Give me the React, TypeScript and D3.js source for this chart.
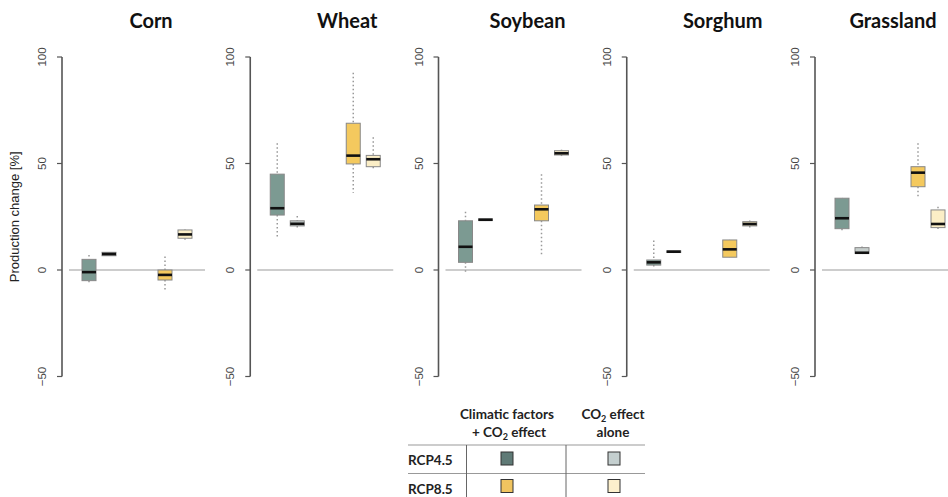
import * as d3 from "d3";

// crops shown as panels
const crops = ["Corn", "Wheat", "Soybean", "Sorghum", "Grassland"];

// box stats per crop: [whisker low, q1, median, q3, whisker high]
const rcp45Climate = [
  [-6.5, -5, -1, 5, 7],
  [15.6, 25.8, 29, 45, 59.5],
  [-1.6, 3.6, 10.9, 23.1, 27.4],
  [1.5, 2.3, 3.6, 4.7, 13.8],
  [18, 19.4, 24.3, 33.7, 33.7],
];
const rcp45Co2 = [
  [6.7, 6.7, 7.5, 8.3, 8.3],
  [20, 20.7, 21.7, 23.1, 25.4],
  [23.2, 23.2, 23.6, 24, 24],
  [8.2, 8.2, 8.6, 9, 9],
  [7.8, 7.8, 8.1, 10.5, 11],
];
const rcp85Climate = [
  [-10, -4.7, -2.3, 0, 6.3],
  [36.3, 49.8, 53.7, 68.9, 92.6],
  [6.2, 23.1, 28.5, 30.5, 45],
  [6, 6, 9.7, 14.1, 14.1],
  [34.4, 39.1, 45.7, 48.5, 59.5],
];
const rcp85Co2 = [
  [13, 14.9, 16.7, 18.8, 19],
  [47.7, 48.5, 52, 53.8, 62.3],
  [53.5, 54, 54.8, 56, 56.5],
  [20, 20.7, 21.6, 22.7, 23.2],
  [18.3, 19.9, 21.6, 28.2, 29.7],
];

const yTicks = [-50, 0, 50, 100];
const seriesLabels = ["RCP4.5", "RCP8.5"];

const series = [
  { data: rcp45Climate, pos: 1, fill: "#7c9a92" },
  { data: rcp45Co2, pos: 2, fill: "#c6cecc" },
  { data: rcp85Climate, pos: 4.8, fill: "#f4c95e" },
  { data: rcp85Co2, pos: 5.8, fill: "#fbeec6" },
];

const titleOffsets = [89, 97, 89, 96, 78];

export default function App() {
  const width = 948;
  const height = 497;

  const y = d3.scaleLinear().domain([-50, 100]).range([376.5, 57]);
  const panelX = d3.scaleLinear().domain([0, 4]).range([62, 815]);
  const boxW = 14;

  const sans = "'Liberation Sans', Arial, sans-serif";
  const bold = "Lato, 'Open Sans', sans-serif";

  return (
    <svg width={width} height={height} style={{ position: "absolute", left: 0, top: 0, background: "#fff" }}>
      <text
        transform={`translate(19,${y(25)}) rotate(-90)`}
        textAnchor="middle"
        fontFamily={sans}
        fontSize={13}
        fill="#222"
      >
        Production change [%]
      </text>

      {crops.map((crop, i) => {
        const ax = panelX(i);
        const x = d3.scaleLinear().domain([0, 6.8]).range([ax + 7, ax + 143]);
        return (
          <g key={crop}>
            <text
              x={ax + titleOffsets[i]}
              y={28}
              textAnchor="middle"
              fontFamily={bold}
              fontWeight="bold"
              fontSize={20}
              fill="#111"
            >
              {crop}
            </text>
            {/* axis */}
            <line x1={ax} x2={ax} y1={y(100)} y2={y(-50)} stroke="#555" strokeWidth={1.6} />
            {yTicks.map((t) => (
              <g key={t}>
                <line x1={ax - 5} x2={ax} y1={y(t)} y2={y(t)} stroke="#555" strokeWidth={1.2} />
                <text
                  transform={`translate(${ax - 16},${y(t)}) rotate(-90)`}
                  textAnchor="middle"
                  fontFamily={sans}
                  fontSize={11.5}
                  fill="#444"
                >
                  {t === -50 ? "\u221250" : t}
                </text>
              </g>
            ))}
            {/* zero line */}
            <line x1={x(0)} x2={x(6.8)} y1={y(0)} y2={y(0)} stroke="#bdbdbd" strokeWidth={1.5} />
            {series.map((s, j) => {
              const [lo, q1, med, q3, hi] = s.data[i];
              const cx = x(s.pos);
              return (
                <g key={j}>
                  <line x1={cx} x2={cx} y1={y(hi)} y2={y(q3)} stroke="#999" strokeWidth={1.5} strokeDasharray="1.5,2.5" />
                  <line x1={cx} x2={cx} y1={y(q1)} y2={y(lo)} stroke="#999" strokeWidth={1.5} strokeDasharray="1.5,2.5" />
                  <rect
                    x={cx - boxW / 2}
                    y={y(q3)}
                    width={boxW}
                    height={Math.max(1, y(q1) - y(q3))}
                    fill={s.fill}
                    stroke="#888"
                    strokeWidth={1}
                  />
                  <line x1={cx - boxW / 2} x2={cx + boxW / 2} y1={y(med)} y2={y(med)} stroke="#111" strokeWidth={2.6} />
                </g>
              );
            })}
          </g>
        );
      })}

      {/* legend table */}
      <g fontFamily={bold} fontWeight="bold" fill="#222" fontSize={13.5}>
        <text x={507} y={419} textAnchor="middle">Climatic factors</text>
        <text x={509} y={437} textAnchor="middle">
          + CO<tspan fontSize={9} dy={3}>2</tspan><tspan dy={-3}> effect</tspan>
        </text>
        <text x={613} y={419} textAnchor="middle">
          CO<tspan fontSize={9} dy={3}>2</tspan><tspan dy={-3}> effect</tspan>
        </text>
        <text x={613} y={437} textAnchor="middle">alone</text>
        {seriesLabels.map((lab, r) => (
          <text key={lab} x={408} y={465 + r * 28.5}>{lab}</text>
        ))}
      </g>
      <line x1={408} x2={645} y1={445} y2={445} stroke="#999" strokeWidth={1} />
      <line x1={408} x2={645} y1={473.5} y2={473.5} stroke="#999" strokeWidth={1} />
      <line x1={466.5} x2={466.5} y1={445} y2={497} stroke="#666" strokeWidth={1} />
      <line x1={566} x2={566} y1={445} y2={497} stroke="#666" strokeWidth={1} />
      {[
        ["#5f7a76", "#c4cfcf"],
        ["#f0c460", "#fdf0cc"],
      ].map((row, r) =>
        row.map((c, k) => (
          <rect
            key={`${r}-${k}`}
            x={[501, 608][k]}
            y={452 + r * 27.5}
            width={12}
            height={13}
            fill={c}
            stroke="#333"
            strokeWidth={1}
          />
        ))
      )}
    </svg>
  );
}
